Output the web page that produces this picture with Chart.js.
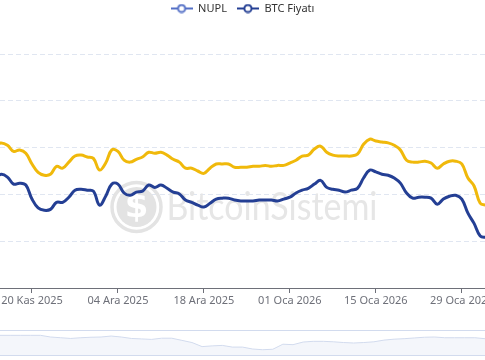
<!DOCTYPE html>
<html><head><meta charset="utf-8">
<script src="https://cdn.jsdelivr.net/npm/chart.js@4.4.1/dist/chart.umd.min.js"></script>
<style>
html,body{margin:0;padding:0;background:#fff;}
#wrap{position:relative;width:485px;height:360px;overflow:hidden;background:#fff;}
#c1{position:absolute;left:-60px;top:0;}
#sliderBox{position:absolute;left:-2px;top:330px;width:489px;height:24px;border-top:1px solid #d2dbee;border-bottom:1px solid #d2dbee;}
#c2{position:absolute;left:2px;top:0;}
</style></head>
<body><div id="wrap">
<canvas id="c1" width="605" height="360"></canvas>
<div id="sliderBox"><canvas id="c2" width="485" height="24"></canvas></div>
</div>
<script>
// ---- data ----
const monthsTR = ['Oca','Şub','Mar','Nis','May','Haz','Tem','Ağu','Eyl','Eki','Kas','Ara'];
const startDate = Date.UTC(2025, 10, 14);
const dayCount = 81;
const dates = [];
for (let i = 0; i < dayCount; i++) {
  const d = new Date(startDate + i * 86400000);
  dates.push(String(d.getUTCDate()).padStart(2,'0') + ' ' + monthsTR[d.getUTCMonth()] + ' ' + d.getUTCFullYear());
}
const xTickLabels = ['20 Kas 2025','04 Ara 2025','18 Ara 2025','01 Oca 2026','15 Oca 2026','29 Oca 2026'];
const seriesNames = ['NUPL','BTC Fiyatı'];

const nupl = [0.305,
 0.310,0.305,0.292,0.295,0.288,0.265,0.247,0.241,0.243,0.260,
 0.256,0.269,0.282,0.284,0.280,0.277,0.252,0.267,0.295,0.292,
 0.273,0.269,0.275,0.280,0.290,0.288,0.290,0.284,0.275,0.269,
 0.256,0.256,0.250,0.245,0.256,0.265,0.265,0.265,0.258,0.258,
 0.258,0.260,0.260,0.262,0.260,0.262,0.262,0.267,0.273,0.282,
 0.284,0.297,0.303,0.290,0.284,0.282,0.282,0.282,0.286,0.307,
 0.318,0.314,0.312,0.310,0.305,0.295,0.273,0.269,0.269,0.271,
 0.267,0.256,0.265,0.271,0.271,0.265,0.235,0.218,0.181,0.177];

const btcPrice = [83500,
 84300,83700,82200,82400,82000,79000,77100,76600,76800,78300,
 78300,79400,80900,81100,80900,80700,77700,79600,82200,82200,
 80300,79800,80500,80700,82000,81500,82000,81300,80500,80100,
 78800,78300,77700,77300,78100,79000,79200,79200,78800,78600,
 78600,78600,78800,78800,78800,78600,79000,79400,80300,80900,
 81300,82200,83000,81500,81100,80900,80500,80900,81300,83500,
 85200,84800,84300,84100,83500,82400,80300,79200,79400,79400,
 79200,77900,79000,79600,79800,79000,76000,73800,71100,70800];

const sliderValues = [82,82,82,82,82,75,72,69,72,74,75,79,75,69,67,65,70,70,61,52,
 35,38,40,33,33,25,22,24,45,43,54,57,57,55,52,50,52,55,62,66,68,71,74,75,72,72,72,72,68];

// ---- styles ----
const yellow = '#F0B90B';
const navy = '#243F94';
const legendBlue = '#5470C6';

function makeIcon(color) {
  const c = document.createElement('canvas');
  c.width = 22; c.height = 10;
  const g = c.getContext('2d');
  g.strokeStyle = color; g.lineWidth = 2;
  g.beginPath(); g.moveTo(0, 5); g.lineTo(22, 5); g.stroke();
  g.beginPath(); g.arc(11, 5, 3.6, 0, Math.PI * 2);
  g.fillStyle = '#fff'; g.fill(); g.stroke();
  return c;
}

const watermark = {
  id: 'watermark',
  beforeDatasetsDraw(chart) {
    const {ctx, chartArea} = chart;
    const cx = (chartArea.left + chartArea.right) / 2;
    ctx.save();
    const lx = cx - 106, ly = 207;
    ctx.strokeStyle = '#e3e3e3'; ctx.lineWidth = 3.5;
    ctx.beginPath(); ctx.arc(lx, ly, 24.5, 0, Math.PI * 2); ctx.stroke();
    ctx.fillStyle = '#e3e3e3';
    ctx.beginPath(); ctx.arc(lx, ly, 20, 0, Math.PI * 2); ctx.fill();
    ctx.fillStyle = '#fff';
    ctx.font = 'bold 34px "DejaVu Sans", sans-serif';
    ctx.textAlign = 'center'; ctx.textBaseline = 'middle';
    ctx.fillText('$', lx, ly + 1);
    ctx.fillStyle = '#e6e6e6';
    ctx.font = '38px Lato, "Noto Sans", sans-serif';
    ctx.textAlign = 'left'; ctx.textBaseline = 'alphabetic';
    ctx.fillText('BitcoinSistemi', cx - 76, 220, 211);
    ctx.restore();
  }
};

Chart.defaults.font.family = '"Noto Sans", sans-serif';

new Chart(document.getElementById('c1'), {
  type: 'line',
  data: {
    datasets: [
      {
        label: seriesNames[0],
        data: nupl.map((v, i) => ({x: i, y: v})),
        yAxisID: 'y1',
        borderColor: yellow, backgroundColor: yellow,
        borderWidth: 3, tension: 0.4, pointRadius: 0,
        pointStyle: makeIcon(legendBlue)
      },
      {
        label: seriesNames[1],
        data: btcPrice.map((v, i) => ({x: i, y: v})),
        yAxisID: 'y',
        borderColor: navy, backgroundColor: navy,
        borderWidth: 3, tension: 0.4, pointRadius: 0,
        pointStyle: makeIcon(navy)
      }
    ]
  },
  options: {
    responsive: false,
    animation: false,
    events: [],
    layout: {padding: {left: 60, right: 60, top: -7, bottom: 0}},
    plugins: {
      legend: {
        position: 'top',
        labels: {usePointStyle: true, pointStyleWidth: 22, padding: 10, color: '#333', font: {size: 11}}
      },
      title: {display: true, text: '', padding: 0, weight: 500, font: {size: 30, lineHeight: 1}},
      tooltip: {enabled: false}
    },
    scales: {
      x: {
        type: 'linear',
        min: dates.indexOf(xTickLabels[0]) - 5.21,
        max: dates.indexOf(xTickLabels[5]) + 3.78,
        afterBuildTicks: (s) => { s.ticks = xTickLabels.map(l => ({value: dates.indexOf(l)})); },
        afterFit: (s) => { s.height = 72; },
        ticks: {
          autoSkip: false, maxRotation: 0, padding: 1, color: '#6E7079', font: {size: 11},
          callback: (v) => dates[v]
        },
        grid: {drawOnChartArea: false, drawTicks: true, tickLength: 5, color: '#6E7079'},
        border: {display: true, color: '#6E7079', width: 1}
      },
      y: {
        position: 'left',
        min: 60000, max: 110000,
        ticks: {display: false, stepSize: 10000},
        afterFit: (s) => { s.width = 0; },
        grid: {color: '#E0E6F1', drawTicks: false, lineWidth: 1},
        border: {display: false, dash: [5, 3]}
      },
      y1: {
        display: false,
        min: 0, max: 0.5
      }
    }
  },
  plugins: [watermark]
});

new Chart(document.getElementById('c2'), {
  type: 'line',
  data: {
    datasets: [{
      data: sliderValues.map((v, i) => ({x: i, y: v})),
      borderColor: '#d2dbee', borderWidth: 1,
      backgroundColor: 'rgba(210,219,238,0.25)',
      fill: 'origin', tension: 0, pointRadius: 0
    }]
  },
  options: {
    responsive: false, animation: false, events: [],
    layout: {padding: 0},
    plugins: {legend: {display: false}, tooltip: {enabled: false}},
    scales: {
      x: {type: 'linear', display: false, min: 0, max: sliderValues.length - 1},
      y: {display: false, min: 0, max: 100}
    }
  }
});
</script>
</body></html>
